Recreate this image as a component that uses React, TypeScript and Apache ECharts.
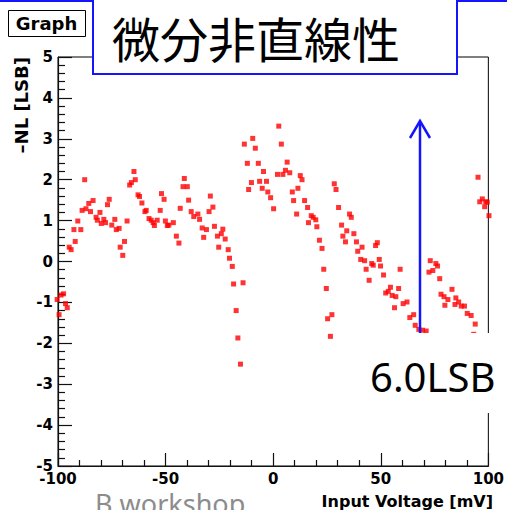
import React, { useEffect, useRef } from "react";
import * as echarts from "echarts";

const inputVoltage = [
  -100.4, -99.5, -98.6, -97.4, -96.5, -95.7, -94.8, -93.9, -92.6, -92.0,
  -90.8, -89.4, -88.8, -87.6, -87.0, -85.7, -84.9, -83.7, -82.3, -81.7,
  -80.5, -79.9, -78.7, -77.9, -77.0, -76.2, -75.0, -73.6, -72.9, -71.6,
  -71.1, -69.9, -69.1, -67.9, -66.7, -65.9, -64.7, -64.1, -62.8, -62.1,
  -61.0, -59.6, -59.0, -57.7, -56.7, -55.8, -55.2, -53.9, -52.5, -51.9,
  -50.7, -50.1, -49.2, -48.5, -46.4, -45.0, -43.8, -43.2, -41.9, -41.3,
  -39.9, -39.3, -38.1, -36.9, -35.0, -34.2, -33.0, -32.3, -31.0, -29.8,
  -29.2, -28.0, -27.3, -25.9, -25.3, -24.1, -23.4, -22.3, -20.9, -20.3,
  -19.0, -18.4, -17.2, -16.4, -15.2, -14.0, -13.4, -12.0, -11.4, -10.1,
  -9.5, -8.3, -6.9, -6.3, -5.1, -4.5, -3.1, -2.5, -1.2, 0.2,
  2.0, 2.6, 3.8, 4.5, 5.7, 6.5, 7.7, 8.9, 9.5, 10.9,
  11.5, 12.6, 13.4, 14.6, 16.0, 16.4, 17.7, 18.6, 19.8, 20.3,
  21.5, 22.7, 23.5, 24.7, 25.3, 26.6, 27.3, 28.4, 29.2, 30.4,
  31.8, 32.4, 33.6, 34.2, 35.5, 36.3, 37.5, 38.7, 39.3, 40.7,
  41.3, 42.5, 43.2, 44.6, 45.8, 46.5, 47.6, 48.4, 49.3, 49.9,
  51.3, 52.3, 53.5, 54.5, 55.3, 56.4, 57.0, 58.3, 59.0, 60.4,
  62.2, 63.5, 65.3, 66.0, 67.7, 69.4, 71.1, 72.4, 73.0, 74.2,
  75.6, 76.4, 77.4, 78.0, 79.4, 79.8, 81.2, 83.1, 84.5, 84.9,
  86.2, 87.4, 88.9, 90.2, 92.0, 93.2, 93.9, 95.2, 96.0, 97.2,
  98.3, 98.8, 99.5, 100.3,
];

const dnlLsb = [
  -0.93, -1.3, -0.82, -0.79, -1.03, -1.13, 0.35, 0.29, 0.78, 0.49,
  0.99, 0.78, 1.25, 2.0, 1.29, 1.42, 1.22, 1.49, 1.08, 1.01,
  1.2, 0.93, 1.03, 0.95, 1.39, 1.52, 0.89, 1.03, 0.78, 0.81,
  0.35, 0.15, 0.49, 0.99, 1.87, 1.93, 2.2, 2.0, 1.63, 1.59,
  1.43, 1.22, 1.25, 1.05, 1.01, 0.95, 0.88, 1.01, 1.25, 1.66,
  1.52, 0.99, 0.88, 0.89, 0.95, 0.62, 0.45, 1.3, 1.83, 2.03,
  1.83, 1.5, 1.22, 1.1, 1.16, 1.03, 0.82, 0.59, 0.78, 1.22,
  1.6, 1.33, 0.86, 0.62, 0.35, 0.68, 0.79, 0.55, 0.29, 0.08,
  -0.12, -0.55, -1.2, -1.87, -2.51, -0.52, 2.87, 2.4, 1.76, 1.93,
  3.01, 2.77, 2.4, 1.96, 1.79, 2.2, 1.96, 1.7, 1.56, 1.29,
  2.13, 3.31, 2.87, 2.13, 2.23, 2.43, 2.17, 1.7, 1.49, 1.16,
  1.79, 2.1, 2.0, 1.49, 1.32, 0.95, 1.12, 1.08, 1.02, 0.85,
  0.52, 0.32, -0.19, -0.66, -1.4, -1.83, -1.3, 1.9, 1.76, 1.32,
  0.89, 0.62, 0.48, 0.75, 1.16, 1.08, 0.68, 0.48, 0.25, 0.05,
  0.35, 0.02, -0.19, -0.46, -0.05, -0.09, 0.39, 0.46, 0.05, -0.11,
  -0.33, -0.77, -0.73, -0.63, -0.83, -1.13, -0.86, -0.66, -0.19, -1.03,
  -0.99, -1.37, -1.3, -1.56, -1.66, -1.68, -1.7, -0.26, 0.02, -0.22,
  -0.05, -0.11, -0.42, -0.8, -0.86, -1.07, -0.93, -0.68, -1.05, -0.89,
  -0.99, -1.09, -1.09, -1.27, -1.32, -1.78, -1.53, 2.06, 1.46, 1.53,
  1.34, 1.46, 1.45, 1.12,
];

const BLUE = "#1414ff";
const AXIS_FONT = "DejaVu Sans";

export default function App() {
  const ref = useRef<HTMLDivElement>(null);

  useEffect(() => {
    if (!ref.current) return;
    const chart = echarts.init(ref.current, null, { renderer: "svg" });
    const points = inputVoltage.map((x, i) => [x, dnlLsb[i]]);

    const axisLabel = {
      color: "#000",
      fontFamily: AXIS_FONT,
      fontWeight: "bold" as const,
      fontSize: 15,
    };

    chart.setOption({
      animation: false,
      backgroundColor: "#ffffff",
      grid: {
        left: 58,
        top: 57,
        right: 15,
        bottom: 44,
        show: true,
        borderColor: "#000",
        borderWidth: 1,
        backgroundColor: "#fff",
      },
      xAxis: {
        type: "value",
        min: -100,
        max: 100,
        interval: 50,
        axisLine: { show: true, onZero: false, lineStyle: { color: "#111", width: 1.2 } },
        axisTick: { show: true, inside: true, length: 13, lineStyle: { color: "#111", width: 1.2 } },
        minorTick: { show: true, splitNumber: 5, length: 6, lineStyle: { color: "#111", width: 1.2 } },
        splitLine: { show: false },
        axisLabel: { ...axisLabel, margin: 5 },
      },
      yAxis: {
        type: "value",
        min: -5,
        max: 5,
        interval: 1,
        axisLine: { show: true, onZero: false, lineStyle: { color: "#111", width: 1.2 } },
        axisTick: { show: true, inside: true, length: 14, lineStyle: { color: "#111", width: 1.2 } },
        minorTick: { show: true, splitNumber: 5, length: 7, lineStyle: { color: "#111", width: 1.2 } },
        splitLine: { show: false },
        axisLabel: { ...axisLabel, margin: 5 },
      },
      series: [
        {
          type: "scatter",
          data: points,
          symbol: "rect",
          symbolSize: 5,
          clip: false,
          itemStyle: { color: "#ff0000" },
        },
      ],
      graphic: [
        {
          type: "line",
          z: 100,
          shape: { x1: 0, y1: 1, x2: 507, y2: 1 },
          style: { stroke: BLUE, lineWidth: 2 },
        },
        {
          type: "rect",
          z: 101,
          shape: { x: 93, y: -5, width: 364, height: 79 },
          style: { fill: "#fff", stroke: BLUE, lineWidth: 2 },
        },
        {
          type: "text",
          z: 102,
          x: 112,
          y: 37,
          style: {
            text: "微分非直線性",
            fontFamily: "Noto Sans CJK JP",
            fontSize: 48,
            fill: "#000",
            align: "left",
            verticalAlign: "middle",
            textAlign: "left",
            textVerticalAlign: "middle",
          },
        },
        {
          type: "rect",
          z: 100,
          shape: { x: 8.5, y: 10.5, width: 77, height: 26 },
          style: { fill: "#fff", stroke: "#000", lineWidth: 1 },
        },
        {
          type: "text",
          z: 101,
          x: 46.5,
          y: 23,
          style: {
            text: "Graph",
            fontFamily: AXIS_FONT,
            fontWeight: "bold",
            fontSize: 18,
            fill: "#000",
            align: "center",
            verticalAlign: "middle",
            textAlign: "center",
            textVerticalAlign: "middle",
          },
        },
        {
          type: "text",
          z: 101,
          x: 21,
          y: 57,
          rotation: Math.PI / 2,
          style: {
            text: "–NL [LSB]",
            fontFamily: AXIS_FONT,
            fontWeight: "bold",
            fontSize: 18,
            fill: "#000",
            align: "right",
            verticalAlign: "middle",
            textAlign: "right",
            textVerticalAlign: "middle",
          },
        },
        {
          type: "text",
          z: 101,
          x: 493,
          y: 501,
          style: {
            text: "Input Voltage [mV]",
            fontFamily: AXIS_FONT,
            fontWeight: "bold",
            fontSize: 16,
            fill: "#000",
            align: "right",
            verticalAlign: "middle",
            textAlign: "right",
            textVerticalAlign: "middle",
          },
        },
        {
          type: "text",
          z: 101,
          x: 95,
          y: 503,
          style: {
            text: "B workshop",
            fontFamily: "Noto Sans",
            fontSize: 27,
            fill: "#8c8c8c",
            align: "left",
            verticalAlign: "middle",
            textAlign: "left",
            textVerticalAlign: "middle",
          },
        },
        {
          type: "rect",
          z: 100,
          shape: { x: 358, y: 333, width: 149, height: 80 },
          style: { fill: "#fff" },
        },
        {
          type: "text",
          z: 101,
          x: 370,
          y: 376,
          style: {
            text: "6.0LSB",
            fontFamily: "Noto Sans",
            fontSize: 40,
            fill: "#000",
            align: "left",
            verticalAlign: "middle",
            textAlign: "left",
            textVerticalAlign: "middle",
          },
        },
        {
          type: "line",
          z: 100,
          shape: { x1: 420, y1: 333, x2: 420, y2: 122 },
          style: { stroke: BLUE, lineWidth: 2.5 },
        },
        {
          type: "polyline",
          z: 100,
          shape: { points: [[410, 138], [420, 121], [430, 138]] },
          style: { stroke: BLUE, lineWidth: 2.5, fill: null },
        },
      ],
    });

    return () => chart.dispose();
  }, []);

  return (
    <div
      ref={ref}
      style={{ position: "fixed", left: 0, top: 0, width: 507, height: 510 }}
    />
  );
}
